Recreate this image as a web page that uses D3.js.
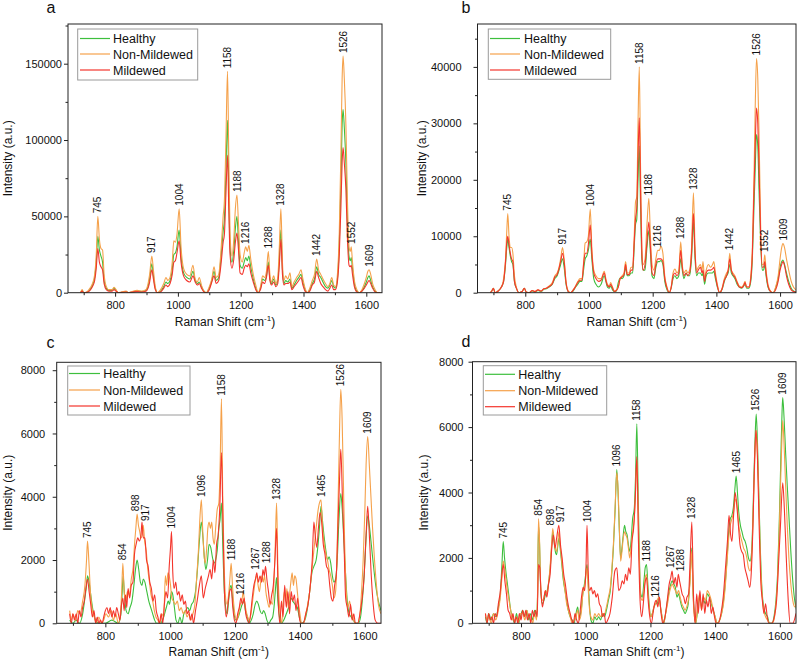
<!DOCTYPE html>
<html><head><meta charset="utf-8">
<script src="https://cdn.jsdelivr.net/npm/d3@7"></script>
<style>body{margin:0;background:#fff}svg{display:block}</style>
</head><body>
<svg id="chart" width="800" height="663"></svg>
<script>
const seriesNames = ["Healthy","Non-Mildewed","Mildewed"];
const shiftTicks = [800,1000,1200,1400,1600];
const shiftMinor = [700,900,1100,1300,1500];

// ---------- Panel a ----------
const aShift = [690,695,700,710,720,728,735,740,745,750,
755,760,765,772,780,790,797,803,810,820,
835,842,855,870,885,898,905,910,917,922,
928,935,945,955,962,968,975,982,987,992,
997,1004,1010,1018,1028,1038,1048,1055,1062,1068,
1075,1083,1090,1100,1108,1115,1122,1130,1138,1144,
1148,1153,1158,1162,1166,1172,1178,1183,1188,1193,
1198,1205,1211,1216,1221,1226,1232,1240,1248,1256,
1263,1270,1276,1282,1288,1293,1298,1305,1312,1318,
1323,1328,1333,1338,1343,1350,1357,1363,1370,1378,
1385,1392,1398,1405,1412,1420,1428,1435,1442,1448,
1455,1462,1470,1478,1484,1490,1496,1502,1508,1514,
1519,1523,1526,1530,1535,1540,1545,1549,1552,1556,
1562,1570,1578,1586,1594,1600,1605,1609,1614,1620,
1628,1636,1645];
const aNonMildewed = [0,2000,0,500,3000,6000,12000,25000,50000,35000,
29000,28000,12000,4000,2000,2000,3500,2000,0,500,
1000,0,800,1500,1000,2000,6000,12000,24000,15000,
4000,0,2000,6000,10000,8000,10000,20000,34000,33000,
38000,55000,30000,16000,12000,11000,18000,9000,7000,10000,
5000,1000,0,4000,9000,17000,10000,12000,30000,50000,
60000,100000,145000,90000,40000,24000,35000,55000,64000,45000,
25000,20000,26000,30000,27000,31000,22000,12000,5000,0,
4000,11000,10000,14000,27000,12000,7000,11000,6000,10000,
30000,55000,20000,8000,11000,9000,13000,4000,7000,10000,
12000,15000,9000,3000,0,3000,8000,12000,22000,15000,
12000,9000,6000,4000,6000,10000,5000,4000,12000,40000,
90000,140000,155000,140000,110000,60000,30000,27000,30000,20000,
8000,2000,0,2000,6000,10000,14000,15000,12000,6000,
2000,0,0];
const aHealthy = [0,1500,0,300,2000,5000,10000,20000,37000,28000,
24000,20000,8000,3000,1500,1500,3000,1500,0,300,
800,0,500,1000,800,1500,4000,9000,19000,11000,
3000,0,1000,4000,7000,6000,8000,15000,25000,26000,
30000,41000,24000,13000,10000,9000,14000,8000,6000,7000,
4000,1000,0,3000,8000,14000,8000,10000,25000,40000,
48000,80000,113000,70000,30000,20000,28000,42000,50000,33000,
18000,16000,20000,23000,21000,24000,17000,9000,3000,0,
3000,9000,8000,11000,20000,9000,6000,9000,5000,8000,
22000,41000,15000,6000,8000,7000,9000,3000,5000,8000,
10000,12000,7000,2000,0,2000,6000,9000,17000,12000,
10000,7000,4000,3000,5000,8000,4000,3000,9000,32000,
70000,110000,120000,108000,85000,45000,24000,21000,23000,16000,
6000,1000,0,1000,4000,7000,10000,11000,8000,4000,
1000,0,0];
const aMildewed = [0,1000,0,200,1500,4000,8000,16000,29000,20000,
17000,15000,6000,2000,1000,1000,2000,1000,0,200,
500,0,400,800,500,1000,3000,7000,15000,9000,
2000,0,500,3000,5000,4000,6000,12000,20000,21000,
26000,34000,20000,11000,8000,7000,11000,7000,5000,6000,
3000,500,0,2000,7000,11000,6000,8000,20000,33000,
38000,65000,90000,55000,25000,16000,22000,33000,39000,28000,
13000,12000,16000,18000,17000,19000,13000,7000,2000,0,
2000,7000,6000,10000,18000,8000,5000,7000,4000,6000,
18000,35000,12000,5000,6000,6000,7000,2000,4000,6000,
8000,10000,5000,1000,0,1000,5000,7000,14000,10000,
6000,4000,2000,1000,3000,5000,2000,2000,7000,25000,
55000,85000,95000,85000,68000,35000,18000,17000,18000,12000,
4000,500,0,1000,3000,5000,7000,8000,6000,3000,
500,0,0];
const aPeaks = [745,917,1004,1158,1188,1216,1288,1328,1442,1526,1552,1609];
const aYTicks = [0,50000,100000,150000];

// ---------- Panel b ----------
const bShift = [690,695,700,705,715,725,732,738,742,745,
749,753,757,761,766,772,780,790,797,803,
812,822,830,840,850,858,866,875,885,893,
900,906,911,917,922,928,935,942,950,958,
965,972,978,984,988,993,998,1004,1009,1015,
1022,1030,1038,1048,1053,1058,1064,1068,1074,1080,
1086,1092,1098,1104,1110,1115,1120,1126,1132,1137,
1142,1146,1150,1154,1158,1162,1166,1170,1176,1182,
1188,1193,1198,1204,1210,1216,1221,1226,1232,1238,
1245,1252,1258,1264,1270,1276,1282,1288,1293,1298,
1305,1310,1316,1322,1328,1333,1338,1343,1350,1355,
1358,1363,1368,1375,1382,1388,1392,1397,1403,1410,
1418,1425,1432,1437,1442,1447,1452,1458,1465,1472,
1480,1486,1490,1495,1502,1508,1513,1518,1522,1526,
1530,1534,1539,1544,1548,1552,1556,1562,1570,1578,
1586,1594,1600,1605,1609,1614,1620,1627,1635,1642,
1650];
const bNonMildewed = [0,300,800,0,300,1000,2500,6000,11000,14000,
10000,8000,8000,7000,3000,1000,0,200,800,100,
0,400,200,500,300,700,800,1200,1800,3000,
3500,4500,6000,8000,6000,2000,300,0,500,1200,
2000,2500,2500,6000,8800,9000,10000,14800,8000,4000,
3000,2500,2500,3800,2500,1500,1200,1800,1000,300,
500,1000,2500,3000,3500,5500,3500,3500,4500,4500,
10000,16000,17000,30000,40000,22000,8000,5000,6000,12000,
16700,10000,5000,4000,6000,7500,7500,8200,7000,3000,
1000,0,1000,3500,4200,3500,4000,9000,5000,3500,
4000,3500,4000,8000,17700,8000,4000,4500,5000,4000,
5500,2500,4000,5000,4500,5000,5500,3500,1500,0,
800,2500,3500,4000,7000,4000,3500,3000,2000,1200,
1000,1500,2000,1000,1000,3000,8000,20000,33000,41500,
38000,28000,12000,5000,5000,6700,4000,1500,300,0,
1000,3000,6000,8000,8700,8000,6000,4000,2000,1000,
500];
const bHealthy = [0,300,800,0,300,1000,2000,5000,8000,9500,
8000,6500,5500,5000,2000,800,0,200,800,100,
0,300,100,400,200,600,700,1000,1500,2500,
3000,4000,5000,6000,4500,1500,200,0,300,1000,
1500,2000,2000,4500,6000,6500,7500,9500,6000,2500,
1500,1000,1500,3000,2000,1000,800,1200,500,200,
300,1800,2600,2500,3000,4500,3000,3000,3500,3500,
8000,12000,13000,20000,26000,15000,6000,4000,4000,8000,
11000,7000,3000,2500,4500,5500,5500,5700,5000,2000,
500,0,800,2500,3000,2500,3000,6000,4000,2500,
3500,3000,3000,6000,12500,6000,3000,3500,3500,3000,
3500,1500,3000,3500,3500,3500,3800,2500,1000,0,
600,2000,3000,3500,5000,3500,3000,2500,1500,1000,
800,1200,1500,800,800,2000,6000,15000,22000,28000,
26000,18000,9000,4000,4000,5000,3000,1000,200,0,
800,2500,4500,5500,5800,5000,3500,2000,800,300,
100];
const bMildewed = [0,300,800,0,300,1000,2000,5500,9000,10000,
8500,7000,6000,5500,2000,800,0,200,800,100,
0,400,200,500,300,700,800,1100,1600,2800,
3200,4300,5500,7000,5500,1800,200,0,400,1100,
1800,2200,2200,5500,7000,7000,8500,12000,7000,3500,
2500,2000,2200,3500,2200,1300,1000,1500,800,200,
400,1000,2500,2800,3200,5000,3200,3200,4000,4000,
9000,13000,15000,24000,31000,18000,7000,4000,5000,9000,
12500,8000,3500,3000,5000,6000,6000,6000,5500,2500,
800,0,900,3000,3500,3000,3500,7500,4500,3000,
3500,3000,3500,7000,14000,7000,3500,4000,4500,3500,
4000,2000,3500,4000,4000,4200,4500,3000,1200,0,
700,2200,3000,4000,6000,4000,3200,2800,1800,1000,
900,1300,1800,1000,1000,2500,7000,18000,26000,32700,
30000,22000,10000,4500,4500,5500,3500,1200,200,0,
500,2000,4000,5000,5500,4800,3000,1500,500,200,
100];
const bPeaks = [745,917,1004,1158,1188,1216,1288,1328,1442,1526,1552,1609];
const bYTicks = [0,10000,20000,30000,40000];

// ---------- Panel c ([shift, intensity]) ----------
const cHealthy = [[690,100],[700,0],[710,100],[720,0],[730,300],[737,800],[742,1200],[745,1500],[750,1300],[755,900],[762,400],[770,100],[780,0],[800,0],[820,100],[840,0],[848,300],[852,1000],[855,1500],[859,900],[864,400],[870,300],[876,500],[882,700],[888,1200],[893,1700],[898,2000],[903,1700],[908,1300],[913,1200],[917,1400],[922,1300],[928,1000],[934,700],[940,500],[946,300],[952,100],[958,0],[970,0],[980,200],[988,500],[994,700],[998,600],[1004,1000],[1008,900],[1013,500],[1018,100],[1024,0],[1030,200],[1036,0],[1042,300],[1048,400],[1054,500],[1060,400],[1066,600],[1072,700],[1078,1000],[1084,1700],[1090,2600],[1096,3200],[1101,2700],[1106,2000],[1110,1700],[1115,2000],[1120,2500],[1125,2400],[1130,2100],[1135,1900],[1140,2000],[1145,2300],[1150,3000],[1154,3300],[1158,3800],[1162,2500],[1166,1200],[1171,500],[1176,300],[1180,700],[1184,1100],[1188,1200],[1192,800],[1197,300],[1203,100],[1210,200],[1216,400],[1222,600],[1227,700],[1232,400],[1238,200],[1244,0],[1250,100],[1256,300],[1262,600],[1267,700],[1272,600],[1277,400],[1283,300],[1288,400],[1293,300],[1298,100],[1304,0],[1310,100],[1316,200],[1320,500],[1324,1000],[1328,1450],[1332,700],[1337,200],[1343,0],[1350,100],[1358,300],[1365,500],[1372,800],[1378,700],[1385,600],[1392,500],[1398,200],[1405,0],[1415,100],[1422,400],[1430,1000],[1437,1600],[1443,1800],[1450,2000],[1455,2400],[1460,3000],[1465,3700],[1470,3200],[1475,2700],[1480,2300],[1485,2000],[1490,2100],[1495,1900],[1500,1500],[1505,1300],[1510,1400],[1515,2000],[1520,3200],[1526,4100],[1531,3500],[1536,2500],[1541,1500],[1546,700],[1552,300],[1558,200],[1565,100],[1572,0],[1580,0],[1587,200],[1593,800],[1598,1500],[1603,2500],[1609,3400],[1615,3000],[1621,2400],[1628,1700],[1635,1100],[1642,700],[1650,400]];
const cNonMildewed = [[690,400],[695,100],[700,300],[708,100],[715,400],[722,300],[730,700],[737,1200],[742,2000],[745,2600],[749,2000],[754,1000],[760,400],[766,200],[772,0],[780,200],[788,0],[795,100],[802,300],[810,200],[818,400],[825,100],[832,300],[840,0],[846,300],[850,900],[854,1900],[858,1000],[863,700],[868,1000],[874,900],[880,1400],[886,1800],[890,2500],[894,3000],[898,3450],[902,3100],[906,2900],[910,2700],[914,2800],[917,3100],[921,2600],[926,2300],[931,1700],[936,1300],[941,900],[946,700],[951,400],[956,200],[962,100],[968,0],[974,300],[980,200],[985,1500],[989,1200],[993,1600],[997,1500],[1001,1200],[1005,800],[1010,700],[1016,600],[1022,700],[1028,400],[1034,500],[1040,300],[1046,400],[1052,200],[1058,300],[1064,100],[1070,300],[1076,600],[1082,1500],[1087,2300],[1091,3200],[1096,3900],[1100,3000],[1104,2200],[1108,1900],[1112,2300],[1116,3000],[1120,3200],[1124,3000],[1128,3200],[1132,2700],[1136,2500],[1140,3000],[1145,3600],[1150,3800],[1154,5000],[1158,7100],[1162,4000],[1166,2000],[1170,900],[1175,600],[1180,900],[1184,1400],[1188,1900],[1192,1200],[1196,600],[1201,200],[1206,100],[1211,300],[1216,600],[1221,700],[1225,1000],[1229,700],[1234,400],[1239,200],[1244,100],[1249,300],[1254,700],[1259,1100],[1263,1400],[1267,1500],[1271,1200],[1275,1000],[1279,1300],[1283,1500],[1287,1300],[1291,1500],[1295,1000],[1300,700],[1305,500],[1310,700],[1315,600],[1320,1300],[1324,2500],[1328,3800],[1332,1800],[1336,700],[1340,200],[1344,0],[1348,600],[1352,1000],[1356,700],[1360,1100],[1364,500],[1368,900],[1372,1300],[1376,1600],[1380,1200],[1384,1500],[1388,1400],[1392,1000],[1396,600],[1400,300],[1405,0],[1412,0],[1418,300],[1424,600],[1430,1000],[1435,1500],[1440,2000],[1445,2500],[1450,3000],[1455,3500],[1460,3800],[1465,3900],[1470,3000],[1475,2500],[1480,2200],[1485,2000],[1490,1700],[1495,1500],[1500,1200],[1505,800],[1510,1000],[1514,2000],[1518,4000],[1522,6000],[1526,7400],[1530,6500],[1534,4500],[1538,2500],[1543,1000],[1548,500],[1553,700],[1558,400],[1563,200],[1570,0],[1578,0],[1585,300],[1590,1000],[1595,2000],[1600,3500],[1604,5000],[1609,5900],[1614,5000],[1619,4000],[1624,3000],[1630,2000],[1636,1200],[1642,600],[1650,300]];
const cMildewed = [[690,300],[695,0],[700,300],[705,100],[710,300],[715,0],[720,400],[725,200],[730,500],[735,700],[740,1100],[745,1400],[750,1000],[755,600],[760,200],[765,400],[770,0],[775,200],[780,0],[785,100],[790,0],[795,200],[800,400],[805,500],[810,300],[815,500],[820,200],[825,400],[830,200],[835,500],[840,300],[845,100],[850,600],[854,800],[858,400],[862,900],[866,500],[870,1100],[875,800],[880,1200],[885,1300],[890,2200],[895,2500],[900,2700],[905,2600],[910,2800],[913,3200],[917,2700],[922,2700],[927,2000],[932,1800],[937,1300],[942,1100],[947,700],[952,900],[957,400],[962,200],[967,0],[972,300],[977,0],[982,600],[987,1000],[992,800],[997,1800],[1001,2400],[1004,2900],[1008,1600],[1012,1100],[1017,1300],[1022,900],[1027,1000],[1032,700],[1037,900],[1042,600],[1047,700],[1052,300],[1057,400],[1062,100],[1067,300],[1072,0],[1078,400],[1083,700],[1090,1200],[1096,1500],[1102,800],[1108,1100],[1113,1300],[1118,1500],[1123,1700],[1128,1400],[1133,2000],[1138,1600],[1143,2500],[1148,2800],[1153,3700],[1158,5400],[1163,3000],[1168,800],[1173,200],[1178,600],[1183,1000],[1188,1100],[1193,500],[1198,100],[1203,0],[1208,300],[1213,500],[1218,800],[1223,600],[1228,800],[1233,300],[1238,100],[1243,0],[1248,300],[1253,800],[1258,1200],[1263,1400],[1267,1600],[1272,1300],[1277,1500],[1282,1300],[1286,1700],[1290,1500],[1294,1800],[1298,1400],[1303,1000],[1308,600],[1313,900],[1318,1200],[1323,2000],[1328,3000],[1333,800],[1338,0],[1343,700],[1348,200],[1353,1200],[1358,500],[1363,1000],[1368,300],[1373,1000],[1378,700],[1383,900],[1388,400],[1393,800],[1398,200],[1403,0],[1410,0],[1418,300],[1425,600],[1432,1200],[1438,2000],[1443,3200],[1447,2800],[1452,2400],[1457,3000],[1462,3500],[1467,3200],[1472,2500],[1477,2200],[1482,1800],[1487,1700],[1492,1200],[1497,800],[1502,700],[1507,1200],[1512,1500],[1517,3000],[1522,4500],[1526,5500],[1531,4000],[1536,2500],[1541,800],[1546,500],[1551,200],[1556,600],[1561,100],[1566,300],[1571,0],[1578,0],[1585,300],[1592,800],[1598,1500],[1604,2800],[1609,3700],[1614,2800],[1620,1500],[1626,600],[1632,100],[1640,0],[1650,0]];
const cPeaks = [745,854,898,917,1004,1096,1158,1188,1216,1267,1288,1328,1465,1526,1609];
const cYTicks = [0,2000,4000,6000,8000];

// ---------- Panel d ([shift, intensity]) ----------
const dHealthy = [[690,200],[695,0],[700,300],[708,100],[715,300],[722,200],[730,500],[736,900],[741,1800],[745,2500],[749,2000],[753,1600],[758,1200],[763,800],[768,400],[774,200],[780,0],[786,300],[792,0],[798,200],[805,400],[812,200],[818,400],[824,100],[830,300],[836,100],[842,400],[848,200],[851,800],[854,3000],[857,2500],[861,1000],[866,600],[871,700],[876,900],[881,1000],[886,1300],[891,1800],[895,2400],[898,2800],[902,2500],[906,2200],[910,2100],[914,2400],[917,2600],[921,2300],[926,1800],[931,1300],[936,1000],[941,700],[946,400],[952,200],[958,100],[964,0],[970,300],[975,500],[980,200],[986,400],[991,900],[996,1200],[1000,1500],[1004,1800],[1008,1200],[1012,500],[1016,100],[1022,0],[1028,200],[1034,100],[1040,200],[1046,100],[1052,300],[1058,200],[1064,400],[1070,700],[1076,1000],[1081,1600],[1086,2400],[1091,3500],[1096,4700],[1100,4000],[1104,2800],[1108,2000],[1112,2300],[1116,2700],[1120,3000],[1124,2800],[1128,2700],[1132,2400],[1136,2200],[1140,2500],[1145,3200],[1150,3500],[1154,4500],[1158,6100],[1162,4000],[1166,2000],[1170,900],[1175,800],[1180,1300],[1184,1700],[1188,1800],[1192,1200],[1196,600],[1201,200],[1206,300],[1211,500],[1216,600],[1221,600],[1226,800],[1231,500],[1236,200],[1241,0],[1247,300],[1253,700],[1258,1000],[1263,1200],[1267,1300],[1272,1200],[1277,1100],[1282,800],[1287,900],[1292,700],[1297,500],[1302,400],[1307,300],[1312,400],[1317,600],[1322,1300],[1328,2300],[1332,900],[1336,300],[1340,0],[1346,400],[1352,800],[1358,500],[1364,700],[1370,600],[1376,900],[1382,800],[1388,600],[1394,400],[1400,200],[1406,0],[1414,100],[1420,300],[1426,700],[1432,1300],[1437,2000],[1442,2800],[1447,3200],[1452,3300],[1457,3600],[1461,4100],[1465,4500],[1469,4000],[1473,3400],[1478,3000],[1483,2800],[1488,2600],[1493,2500],[1498,2300],[1503,2000],[1508,1900],[1512,2100],[1516,3000],[1520,4500],[1524,5800],[1527,6400],[1531,5500],[1535,4000],[1540,2200],[1545,1000],[1550,500],[1556,300],[1562,200],[1568,0],[1575,0],[1582,200],[1588,700],[1593,1500],[1598,3000],[1603,5000],[1607,6500],[1609,6900],[1613,6300],[1618,5200],[1623,4200],[1628,3300],[1634,2200],[1640,1300],[1646,700],[1652,400]];
const dNonMildewed = [[690,300],[695,100],[700,200],[708,0],[715,300],[722,100],[730,400],[736,800],[741,1400],[745,1900],[749,1700],[753,1400],[758,1000],[763,700],[768,400],[774,100],[780,100],[786,200],[792,0],[798,300],[805,300],[812,100],[818,400],[824,200],[830,200],[836,0],[842,300],[848,100],[851,900],[854,3200],[857,2600],[861,1100],[866,700],[871,800],[876,1000],[881,900],[886,1300],[891,1900],[895,2500],[898,2900],[902,2600],[906,2300],[910,2200],[914,2500],[917,2800],[921,2400],[926,1900],[931,1400],[936,1000],[941,600],[946,400],[952,200],[958,0],[964,100],[970,200],[975,400],[980,100],[986,300],[991,900],[996,1100],[1000,1400],[1004,1700],[1008,1000],[1012,400],[1016,200],[1022,100],[1028,300],[1034,200],[1040,300],[1046,200],[1052,300],[1058,300],[1064,500],[1070,800],[1076,1100],[1081,1700],[1086,2500],[1091,3600],[1096,4600],[1100,4100],[1104,2900],[1108,1900],[1112,2200],[1116,2600],[1120,2800],[1124,2700],[1128,2600],[1132,2300],[1136,2000],[1140,2300],[1145,2800],[1150,3200],[1154,4000],[1158,5000],[1162,3500],[1166,1800],[1170,800],[1175,700],[1180,1000],[1184,1400],[1188,1500],[1192,1000],[1196,500],[1201,200],[1206,300],[1211,500],[1216,600],[1221,700],[1226,800],[1231,500],[1236,200],[1241,0],[1247,300],[1253,600],[1258,900],[1263,1100],[1267,1200],[1272,1100],[1277,1000],[1282,900],[1287,1000],[1292,800],[1297,600],[1302,500],[1307,400],[1312,500],[1317,700],[1322,1200],[1328,2200],[1332,800],[1336,200],[1340,0],[1346,500],[1352,900],[1358,400],[1364,800],[1370,700],[1376,1000],[1382,900],[1388,700],[1394,400],[1400,200],[1406,0],[1414,100],[1420,300],[1426,600],[1432,1200],[1437,1900],[1442,2600],[1447,3000],[1452,3200],[1457,3400],[1461,3700],[1465,3800],[1469,3500],[1473,3000],[1478,2700],[1483,2500],[1488,2300],[1493,2200],[1498,2000],[1503,1700],[1508,1600],[1512,1900],[1516,2800],[1520,4200],[1524,5400],[1527,5900],[1531,5200],[1535,3800],[1540,2000],[1545,900],[1550,400],[1556,200],[1562,100],[1568,0],[1575,0],[1582,100],[1588,600],[1593,1300],[1598,2800],[1603,4500],[1607,5800],[1609,6200],[1613,5500],[1618,4200],[1623,3000],[1628,2000],[1634,1200],[1640,700],[1646,500],[1652,700]];
const dMildewed = [[690,300],[695,0],[700,300],[705,100],[710,200],[715,0],[720,300],[725,200],[730,600],[735,900],[740,1400],[745,1800],[750,1300],[755,900],[760,400],[765,300],[770,100],[775,300],[780,0],[785,200],[790,0],[795,300],[800,100],[805,400],[810,200],[815,400],[820,100],[825,300],[830,0],[835,400],[840,200],[845,400],[850,200],[854,1800],[858,1700],[862,900],[866,500],[870,700],[875,1000],[880,800],[885,1200],[890,1500],[895,2300],[900,2700],[905,2300],[910,2600],[917,3000],[922,2400],[927,2000],[932,1500],[937,1200],[942,800],[947,500],[952,300],[957,100],[962,0],[967,300],[972,100],[977,0],[982,300],[987,800],[992,1100],[997,1000],[1001,1800],[1004,3000],[1008,1500],[1012,1000],[1017,1100],[1022,900],[1027,1000],[1032,800],[1037,900],[1042,600],[1047,500],[1052,200],[1057,300],[1062,0],[1068,100],[1075,300],[1082,800],[1090,1600],[1096,1700],[1102,1000],[1108,1100],[1113,1300],[1118,1200],[1123,1500],[1128,1300],[1133,1700],[1138,1500],[1143,2500],[1148,2900],[1153,3800],[1158,5100],[1163,2500],[1168,700],[1173,200],[1178,600],[1183,1200],[1188,1400],[1193,700],[1198,200],[1203,0],[1208,300],[1213,600],[1218,700],[1223,500],[1228,800],[1233,300],[1238,0],[1245,200],[1252,700],[1258,1200],[1263,1400],[1267,1600],[1272,1200],[1277,1400],[1282,1100],[1286,1500],[1290,1300],[1294,1100],[1298,900],[1303,800],[1308,600],[1313,800],[1318,900],[1323,2000],[1328,3100],[1333,900],[1338,0],[1343,900],[1348,300],[1353,1000],[1358,400],[1363,900],[1368,300],[1373,700],[1378,500],[1383,800],[1388,300],[1393,500],[1398,200],[1403,0],[1410,0],[1418,300],[1425,800],[1432,1700],[1438,2500],[1443,3300],[1448,2700],[1452,2500],[1457,3300],[1462,4000],[1467,3600],[1472,3000],[1477,2400],[1482,2200],[1487,2100],[1492,1700],[1497,1500],[1502,1300],[1507,1100],[1512,1600],[1517,3000],[1522,5000],[1526,5900],[1531,5000],[1536,3000],[1541,1300],[1546,700],[1551,300],[1556,600],[1561,200],[1566,0],[1575,0],[1583,200],[1590,700],[1596,1800],[1602,3000],[1609,4300],[1614,3500],[1620,2000],[1626,700],[1632,0],[1640,0],[1650,300]];
const dPeaks = [745,854,898,917,1004,1096,1158,1188,1216,1267,1288,1328,1465,1526,1609];
const dYTicks = [0,2000,4000,6000,8000];

// ---------- drawing ----------
const COLORS = {"Healthy":"#3dbf3d","Non-Mildewed":"#f5a14a","Mildewed":"#f4352c"};
const FONT = "Arial, 'Liberation Sans', sans-serif";
const zip = (xs, ys) => xs.map((v,i)=>[v, ys[i]]);

const panels = [
  {letter:"a", lx:46.5, ly:12.7, left:68, right:382, top:24, bottom:292.7, ymax:176000,
   yTicks:aYTicks, yMinor:25000, ypad:2, xpad:5, ytx:12, xtY:326, nudge:{},
   series:[zip(aShift,aHealthy), zip(aShift,aNonMildewed), zip(aShift,aMildewed)], peaks:aPeaks,
   leg:{x0:77.7,y0:29,x1:197.7,y1:80,lx0:80,lx1:110,tx:113,rows:[38.5,54,70]}},
  {letter:"b", lx:461.5, ly:13.3, left:477.5, right:796, top:24, bottom:292.7, ymax:47600,
   yTicks:bYTicks, yMinor:5000, ypad:12, xpad:5, ytx:426, xtY:326, nudge:{},
   series:[zip(bShift,bHealthy), zip(bShift,bNonMildewed), zip(bShift,bMildewed)], peaks:bPeaks,
   leg:{x0:488.3,y0:29,x1:610.7,y1:79.3,lx0:490,lx1:520,tx:524,rows:[38.5,54,70]}},
  {letter:"c", lx:46.5, ly:348.3, left:56.7, right:381, top:362.3, bottom:623.3, ymax:8250,
   yTicks:cYTicks, yMinor:1000, ypad:7.5, xpad:4.5, ytx:11.5, xtY:656,
   nudge:{898:[-2,0],917:[2,2],1267:[-1,0],1288:[2.5,0]},
   series:[cHealthy, cNonMildewed, cMildewed], peaks:cPeaks,
   leg:{x0:67.7,y0:366,x1:190,y1:415,lx0:69,lx1:100,tx:103.3,rows:[373.5,390,406]}},
  {letter:"d", lx:461.5, ly:347.3, left:472.5, right:796, top:361.7, bottom:623.3, ymax:8000,
   yTicks:dYTicks, yMinor:1000, ypad:5, xpad:4.5, ytx:428, xtY:656,
   nudge:{898:[-2.5,0],917:[1.5,0],1267:[-1.5,0],1288:[2,0]},
   series:[dHealthy, dNonMildewed, dMildewed], peaks:dPeaks,
   leg:{x0:483.3,y0:365.7,x1:606.7,y1:415,lx0:485,lx1:515,tx:518.3,rows:[374.3,390.7,406.7]}}
];

const svg = d3.select("#chart");
svg.append("rect").attr("width",800).attr("height",663).attr("fill","#fff");

panels.forEach(p => {
  const x = d3.scaleLinear().domain([650,1650]).range([p.left,p.right]);
  const y = d3.scaleLinear().domain([0,p.ymax]).range([p.bottom,p.top]);
  const g = svg.append("g").attr("font-family",FONT);
  const clipId = "clip-"+p.letter;
  svg.append("clipPath").attr("id",clipId).append("rect")
    .attr("x",p.left).attr("y",p.top).attr("width",p.right-p.left).attr("height",p.bottom-p.top);

  const line = d3.line().x(d=>x(d[0])).y(d=>y(d[1])).curve(d3.curveMonotoneX);
  const lg = g.append("g").attr("clip-path",`url(#${clipId})`);
  p.series.forEach((s,i)=>{
    lg.append("path").datum(s).attr("d",line).attr("fill","none")
      .attr("stroke",COLORS[seriesNames[i]]).attr("stroke-width",1.1).attr("stroke-linejoin","round");
  });

  // peak labels
  p.peaks.forEach(pk=>{
    let m = 0;
    p.series.forEach(s=>s.forEach(d=>{ if (Math.abs(d[0]-pk)<=6 && d[1]>m) m=d[1]; }));
    const nd = p.nudge[pk] || [0,0];
    g.append("text").attr("transform",`translate(${x(pk)+3.6+nd[0]},${y(m)-3+nd[1]}) rotate(-90)`)
      .attr("font-size",10).attr("fill","#111").text(pk);
  });

  // axes
  const styleAxis = sel => { sel.select(".domain").remove(); sel.attr("font-family",FONT).attr("font-size",11);
    sel.selectAll("line").attr("stroke","#222"); sel.selectAll("text").attr("fill","#111"); };
  g.append("g").attr("transform",`translate(0,${p.bottom})`)
    .call(d3.axisBottom(x).tickValues(shiftTicks).tickSize(4).tickPadding(p.xpad).tickFormat(d3.format("d"))).call(styleAxis);
  g.append("g").attr("transform",`translate(0,${p.bottom})`)
    .call(d3.axisBottom(x).tickValues(shiftMinor).tickSize(2.5).tickFormat("")).call(styleAxis);
  const yMinorVals = d3.range(p.yMinor, p.ymax, p.yMinor*2);
  g.append("g").attr("transform",`translate(${p.left},0)`)
    .call(d3.axisLeft(y).tickValues(p.yTicks).tickSize(4).tickPadding(p.ypad).tickFormat(d3.format("d"))).call(styleAxis);
  g.append("g").attr("transform",`translate(${p.left},0)`)
    .call(d3.axisLeft(y).tickValues(yMinorVals).tickSize(2.5).tickFormat("")).call(styleAxis);

  // frame
  g.append("rect").attr("x",p.left).attr("y",p.top).attr("width",p.right-p.left).attr("height",p.bottom-p.top)
    .attr("fill","none").attr("stroke","#222").attr("stroke-width",1);

  // axis titles
  const xt = g.append("text").attr("x",(p.left+p.right)/2).attr("y",p.xtY).attr("text-anchor","middle")
    .attr("font-size",12).attr("fill","#111");
  xt.append("tspan").text("Raman Shift (cm");
  xt.append("tspan").attr("font-size",8).attr("dy",-5).text("-1");
  xt.append("tspan").attr("dy",5).text(")");
  g.append("text").attr("transform",`translate(${p.ytx},${(p.top+p.bottom)/2}) rotate(-90)`)
    .attr("text-anchor","middle").attr("font-size",12).attr("fill","#111").text("Intensity (a.u.)");

  // panel letter
  g.append("text").attr("x",p.lx).attr("y",p.ly).attr("font-size",16).attr("fill","#111").text(p.letter);

  // legend
  const L = p.leg;
  g.append("rect").attr("x",L.x0).attr("y",L.y0).attr("width",L.x1-L.x0).attr("height",L.y1-L.y0)
    .attr("fill","#fff").attr("stroke","#9a9a9a").attr("stroke-width",1);
  seriesNames.forEach((n,i)=>{
    g.append("line").attr("x1",L.lx0).attr("x2",L.lx1).attr("y1",L.rows[i]).attr("y2",L.rows[i])
      .attr("stroke",COLORS[n]).attr("stroke-width",1.2);
    g.append("text").attr("x",L.tx).attr("y",L.rows[i]).attr("dy","0.36em").attr("font-size",12.5)
      .attr("fill","#111").text(n);
  });
});
</script>
</body></html>
